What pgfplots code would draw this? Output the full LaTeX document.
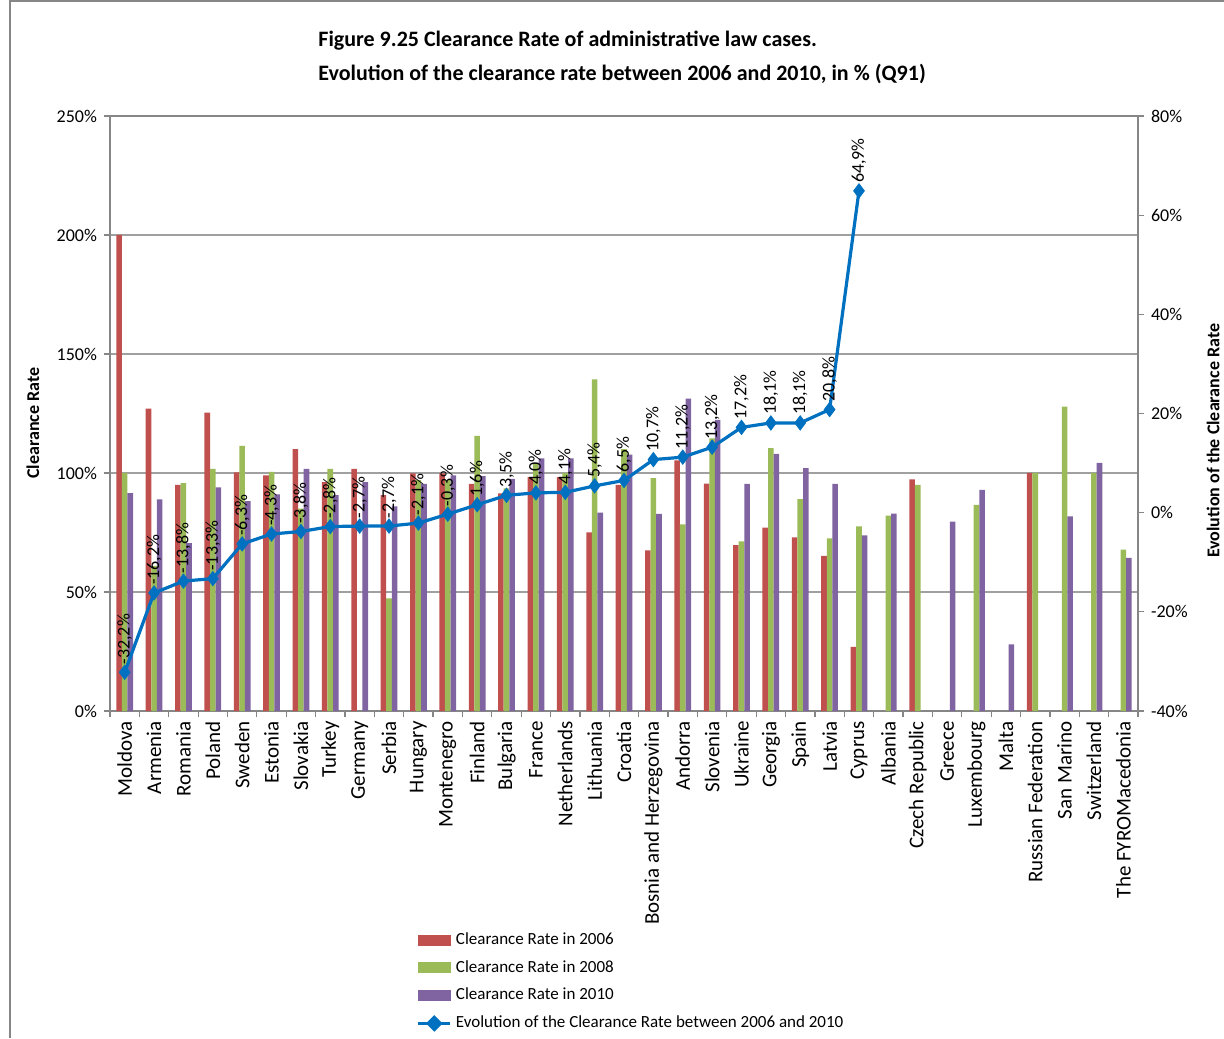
\documentclass[border=0pt]{standalone}
\usepackage{fontspec}
\setmainfont{Carlito}
\usepackage{pgfplots}
\pgfplotsset{compat=1.18}
\definecolor{c06}{HTML}{C0504D}
\definecolor{c08}{HTML}{9BBB59}
\definecolor{c10}{HTML}{8064A2}
\definecolor{cline}{HTML}{0070C0}
\definecolor{axgray}{RGB}{134,134,134}
\definecolor{gridgray}{RGB}{160,160,160}
\begin{document}
\begin{tikzpicture}[x=1pt,y=1pt]
\useasboundingbox (0,0) rectangle (612,519);
\draw[axgray, line width=1pt] (5,0) -- (5,518.5) -- (612,518.5);
\node[anchor=west, inner sep=0pt, font=\fontsize{11}{13}\selectfont\bfseries] at (159,498.5) {Figure 9.25 Clearance Rate of administrative law cases.};
\node[anchor=west, inner sep=0pt, font=\fontsize{11}{13}\selectfont\bfseries] at (159,482) {Evolution of the clearance rate between 2006 and 2010, in \% (Q91)};
\begin{axis}[
  at={(55pt,163.5pt)}, anchor=south west,
  width=514pt, height=297.5pt, scale only axis,
  xmin=-0.5, xmax=34.5, ymin=0, ymax=250,
  /pgf/number format/assume math mode=true,
  xtick={0,...,34},
  xticklabels={Moldova,Armenia,Romania,Poland,Sweden,Estonia,Slovakia,Turkey,Germany,Serbia,Hungary,Montenegro,Finland,Bulgaria,France,Netherlands,Lithuania,Croatia,Bosnia and Herzegovina,Andorra,Slovenia,Ukraine,Georgia,Spain,Latvia,Cyprus,Albania,Czech Republic,Greece,Luxembourg,Malta,Russian Federation,San Marino,Switzerland,The FYROMacedonia},
  minor xtick={-0.5,0.5,...,34.5},
  major x tick style={draw=none},
  xtick pos=bottom, ytick pos=left,
  tick align=outside,
  major tick length=3pt, minor tick length=3pt,
  tick style={axgray, line width=0.6pt},
  axis line style={axgray, line width=0.6pt},
  xticklabel style={rotate=90, anchor=east, font=\fontsize{10.5}{12}\selectfont, inner sep=2pt},
  ytick={0,50,...,250},
  yticklabel={\pgfmathprintnumber{\tick}\%},
  yticklabel style={font=\fontsize{9}{10}\selectfont},
  ymajorgrids, major grid style={gridgray, line width=0.6pt},
  ylabel={Clearance Rate},
  ylabel style={font=\fontsize{9}{11}\selectfont\bfseries, at={(axis description cs:-0.075,0.484)}, anchor=center},
]
\addplot[ybar, bar width=0.19, bar shift=-0.19, fill=c06, draw=none] coordinates {
(0,200) (1,127) (2,95) (3,125.4) (4,100.3) (5,99) (6,110) (7,96.2) (8,101.7) (9,90.7)
(10,99.8) (11,99.8) (12,95.4) (13,91.4) (14,98.3) (15,98.3) (16,75) (17,95) (18,67.5) (19,105.3)
(20,95.5) (21,69.7) (22,77.1) (23,73) (24,65.2) (25,26.9) (27,97.3) (31,100)};
\addplot[ybar, bar width=0.19, bar shift=0, fill=c08, draw=none] coordinates {
(0,100) (1,61) (2,95.7) (3,101.7) (4,111.4) (5,100.5) (6,85) (7,101.7) (9,47.3)
(10,97) (11,97) (12,115.6) (13,93.5) (14,104) (15,100) (16,139.3) (17,110) (18,97.8) (19,78.4)
(20,114.5) (21,71.3) (22,110.4) (23,89) (24,72.5) (25,77.6) (26,82.1) (27,95) (29,86.6) (31,100)
(32,127.9) (33,100) (34,67.8)};
\addplot[ybar, bar width=0.19, bar shift=0.19, fill=c10, draw=none] coordinates {
(0,91.5) (1,88.9) (2,70.5) (3,94) (4,88.2) (5,91) (6,101.7) (7,90.7) (8,96.2) (9,86)
(10,95.4) (11,99) (12,98.7) (13,97.5) (14,106.1) (15,106.1) (16,83.3) (17,107.7) (18,82.8) (19,131.2)
(20,122.3) (21,95.4) (22,108) (23,102) (24,95.4) (25,73.8) (26,82.9) (28,79.6) (29,92.9) (30,28)
(32,81.8) (33,104.3) (34,64.3)};
\end{axis}
\begin{axis}[
  at={(55pt,163.5pt)}, anchor=south west,
  width=514pt, height=297.5pt, scale only axis,
  xmin=-0.5, xmax=34.5, ymin=-40, ymax=80,
  /pgf/number format/assume math mode=true,
  axis x line=none, axis y line*=right,
  ytick={-40,-20,...,80},
  yticklabel={\pgfmathprintnumber{\tick}\%},
  yticklabel style={font=\fontsize{9}{10}\selectfont},
  tick align=outside, major tick length=3pt,
  tick style={axgray, line width=0.6pt},
  axis line style={axgray, line width=0.6pt},
  ylabel={Evolution of the Clearance Rate},
  ylabel style={font=\fontsize{9}{11}\selectfont\bfseries, at={(axis description cs:1.073,0.454)}, anchor=center},
  clip=false,
  legend style={at={(0.298,-0.365)}, anchor=north west, draw=none, fill=none, font=\fontsize{8.5}{10}\selectfont, row sep=2.5pt, inner sep=0pt},
  legend cell align=left,
]
\addlegendimage{legend image code/.code={\fill[c06] (0pt,-2.5pt) rectangle (16pt,2.5pt);}}
\addlegendentry{Clearance Rate in 2006}
\addlegendimage{legend image code/.code={\fill[c08] (0pt,-2.5pt) rectangle (16pt,2.5pt);}}
\addlegendentry{Clearance Rate in 2008}
\addlegendimage{legend image code/.code={\fill[c10] (0pt,-2.5pt) rectangle (16pt,2.5pt);}}
\addlegendentry{Clearance Rate in 2010}
\addplot[cline, line width=1.6pt, mark=diamond*, mark size=3.5pt, mark options={fill=cline, draw=cline, line width=0.5pt},
  point meta=explicit symbolic, nodes near coords,
  every node near coord/.append style={rotate=90, anchor=west, text=black, font=\fontsize{9}{10}\selectfont, outer sep=3pt, inner sep=1pt},
  legend image code/.code={\draw[cline, line width=1.6pt] (0pt,0pt) -- (16pt,0pt); \fill[cline] (8pt,0pt) +(0,3pt) -- +(3pt,0) -- +(0,-3pt) -- +(-3pt,0) -- cycle;}]
coordinates {
(0,-32.2) [{-32,2\%}] (1,-16.2) [{-16,2\%}] (2,-13.8) [{-13,8\%}] (3,-13.3) [{-13,3\%}]
(4,-6.3) [{-6,3\%}] (5,-4.3) [{-4,3\%}] (6,-3.8) [{-3,8\%}] (7,-2.8) [{-2,8\%}]
(8,-2.7) [{-2,7\%}] (9,-2.7) [{-2,7\%}] (10,-2.1) [{-2,1\%}] (11,-0.3) [{-0,3\%}]
(12,1.6) [{1,6\%}] (13,3.5) [{3,5\%}] (14,4.0) [{4,0\%}] (15,4.1) [{4,1\%}]
(16,5.4) [{5,4\%}] (17,6.5) [{6,5\%}] (18,10.7) [{10,7\%}] (19,11.2) [{11,2\%}]
(20,13.2) [{13,2\%}] (21,17.2) [{17,2\%}] (22,18.1) [{18,1\%}] (23,18.1) [{18,1\%}]
(24,20.8) [{20,8\%}] (25,64.9) [{64,9\%}]};
\addlegendentry{Evolution of the Clearance Rate between 2006 and 2010}
\end{axis}
\end{tikzpicture}
\end{document}
